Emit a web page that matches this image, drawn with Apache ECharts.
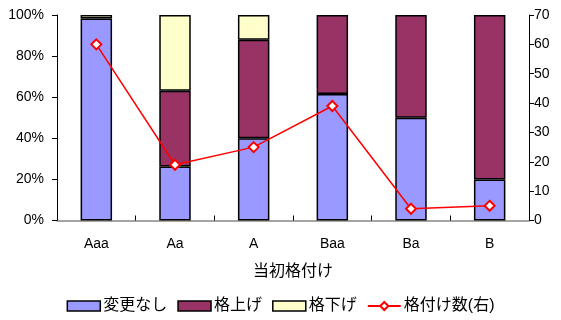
<!DOCTYPE html>
<html><head><meta charset="utf-8">
<script src="https://cdn.jsdelivr.net/npm/echarts@6/dist/echarts.min.js"></script>
<style>html,body{margin:0;padding:0;background:#fff}#c{width:561px;height:320px}</style>
</head><body><div id="c"></div>
<script>
const categories = ['Aaa','Aa','A','Baa','Ba','B'];
const unchanged = [98.3, 26.3, 40, 61.5, 50, 20];
const upgraded = [0, 36.8, 48, 38.5, 50, 80];
const downgraded = [1.7, 36.9, 12, 0, 0, 0];
const ratingCount = [60, 19, 25, 39, 4, 5];

const font = 'Liberation Sans, Arial, Noto Sans CJK JP, sans-serif';
const nz = arr => arr.map(v => v === 0 ? null : v);
const chart = echarts.init(document.getElementById('c'));
const barStyle = c => ({color:c, borderColor:'#000', borderWidth:1.5});
chart.setOption({
  animation:false,
  textStyle:{fontFamily:font},
  grid:{left:57, right:32, top:15, bottom:99.5, containLabel:false},
  legend:{
    bottom:1, left:'center', itemGap:10, itemWidth:33, itemHeight:10,
    textStyle:{fontSize:16, color:'#000', fontFamily:font, padding:[0,0,0,-2]},
    data:[
      {name:'変更なし', icon:'rect', itemStyle:{borderColor:'#000',borderWidth:1.5}},
      {name:'格上げ', icon:'rect', itemStyle:{borderColor:'#000',borderWidth:1.5}},
      {name:'格下げ', icon:'rect', itemStyle:{borderColor:'#000',borderWidth:1.5}},
      {name:'格付け数(右)'}
    ]
  },
  xAxis:{
    type:'category', data:categories,
    name:'当初格付け', nameLocation:'middle', nameGap:43,
    nameTextStyle:{fontSize:16, color:'#000', fontFamily:font},
    axisLine:{lineStyle:{color:'#888', width:1.5}},
    axisTick:{show:true, inside:true, length:5, lineStyle:{color:'#000'}},
    axisLabel:{fontSize:14, color:'#000', margin:17}
  },
  yAxis:[
    {type:'value', min:0, max:100, interval:20,
     axisLine:{show:true, lineStyle:{color:'#000'}},
     axisTick:{show:true, length:5, lineStyle:{color:'#000'}},
     splitLine:{show:false},
     axisLabel:{formatter:v=>v+'%', fontSize:14, color:'#000', margin:13}},
    {type:'value', min:0, max:70, interval:10,
     axisLine:{show:true, lineStyle:{color:'#000'}},
     axisTick:{show:true, length:5, lineStyle:{color:'#000'}},
     splitLine:{show:false},
     axisLabel:{fontSize:14, color:'#000', margin:5}}
  ],
  series:[
    {name:'変更なし', type:'bar', stack:'s', data:nz(unchanged), barWidth:'40%', itemStyle:barStyle('#9999ff')},
    {name:'格上げ', type:'bar', stack:'s', data:nz(upgraded), barWidth:'40%', itemStyle:barStyle('#993366')},
    {name:'格下げ', type:'bar', stack:'s', data:nz(downgraded), barWidth:'40%', itemStyle:barStyle('#ffffcc')},
    {name:'格付け数(右)', type:'line', yAxisIndex:1, data:ratingCount,
     symbol:'diamond', symbolSize:10, lineStyle:{color:'#ff0000', width:1.5},
     itemStyle:{color:'#fff', borderColor:'#ff0000', borderWidth:2}, z:5}
  ]
});
</script></body></html>
